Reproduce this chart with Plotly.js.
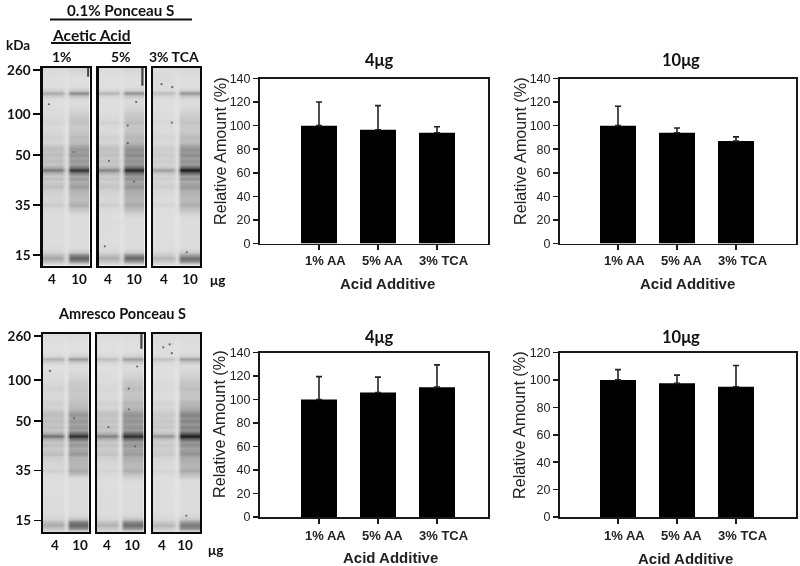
<!DOCTYPE html>
<html><head><meta charset="utf-8">
<script src="https://cdn.plot.ly/plotly-3.0.1.min.js"></script>
<style>html,body{margin:0;padding:0;background:#fff}#c{width:800px;height:566px;filter:blur(0.45px)}</style>
</head><body><div id="c"></div>
<script>
// ---- bar chart data ----
const categories = ['1% AA','5% AA','3% TCA'];
const top4Values = [100,96.5,94];      const top4Err = [20,20.5,5];
const top10Values = [100,94,87];       const top10Err = [16.5,4,3.5];
const bot4Values = [100,106,110.5];    const bot4Err = [19.5,13,19];
const bot10Values = [100,97.5,95];     const bot10Err = [7.5,6,15.5];
const tickVals140 = [0,20,40,60,80,100,120,140];
const tickVals120 = [0,20,40,60,80,100,120];

// ---- blot data: darkness (0-100) per gel row, one list per lane ----
const kdaLabels = ['260','100','50','35','15'];
const kdaRowsTop = [0.2,15.1,29,46,62.9];
const kdaRowsBot = [0.1,15,29,45.7,62.6];
const laneLabels = ['4','10'];
const gapLane = [14,12,11,10,10,10,10,11,13,11,10,10,9,9,9,9,10,10,10,9,9,9,10,10,10,10,11,12,11,12,11,12,11,12,16,13,11,11,10,10,11,10,10,10,9,10,11,10,10,9,9,9,10,9,10,9,9,10,9,9,10,10,11,13,15,13,10];
const t1L4 = [14,13,13,12,12,12,13,18,40,22,13,12,12,13,13,14,14,16,18,15,15,15,17,20,17,18,26,31,27,31,26,31,25,38,62,36,24,29,22,26,29,21,19,18,17,18,23,16,14,13,13,13,14,13,14,13,13,14,13,13,14,15,18,32,42,30,15];
const t1L10 = [18,16,13,12,12,12,14,22,55,28,14,13,14,16,18,22,24,26,28,24,24,25,28,32,30,32,42,50,46,52,44,50,44,62,90,62,42,48,38,42,46,36,34,32,30,32,38,28,22,15,13,13,13,13,14,13,13,13,13,13,13,15,24,58,72,56,20];
const t2L4 = [13,13,12,12,11,11,12,15,34,18,12,12,12,12,13,13,14,16,20,15,14,14,16,20,17,18,25,30,26,29,24,28,24,34,58,34,22,26,20,24,26,20,18,17,16,17,21,15,14,13,12,13,13,12,13,13,12,13,12,13,13,14,17,28,38,26,14];
const t2L10 = [16,15,13,12,12,12,13,20,52,26,14,14,15,17,20,24,26,28,32,26,26,26,30,34,32,36,46,54,50,56,48,52,48,66,94,66,48,52,42,46,50,40,38,36,34,36,40,32,26,18,15,13,13,14,13,13,13,13,13,13,13,15,22,54,70,52,18];
const t3L4 = [13,13,14,14,13,13,13,15,30,17,13,12,12,12,12,13,13,14,16,13,13,13,15,17,15,15,19,22,20,22,19,22,18,24,46,26,18,21,17,19,21,16,15,14,13,14,17,13,12,12,12,12,12,12,12,12,12,12,12,12,12,13,16,24,34,24,13];
const t3L10 = [15,14,13,12,12,12,13,20,50,26,14,13,13,15,17,21,23,25,27,23,23,24,27,32,30,33,44,52,48,54,46,52,46,68,100,68,46,52,40,44,48,38,36,34,32,34,38,30,24,17,14,13,13,13,13,13,13,13,13,13,13,15,22,46,66,58,20];
const b1L4 = [13,12,12,12,11,11,12,16,36,20,12,11,12,13,13,14,15,17,19,15,15,15,17,20,18,20,28,30,27,30,26,30,25,38,66,38,25,30,23,26,30,21,19,17,16,17,20,14,13,12,12,12,13,12,13,13,13,14,13,13,13,15,18,32,40,28,14];
const b1L10 = [14,13,12,12,11,11,13,20,48,24,13,13,14,16,18,22,24,24,26,24,24,25,27,30,30,34,44,50,44,50,44,50,46,66,92,64,44,50,40,44,50,36,36,34,34,36,40,30,16,13,13,13,13,13,13,13,13,13,13,13,14,17,28,62,70,58,20];
const b2L4 = [13,13,12,12,11,11,12,15,30,17,12,11,12,12,13,13,14,15,16,14,14,14,16,19,17,19,26,28,25,28,24,28,24,36,60,36,24,28,22,24,27,20,18,16,15,16,18,14,13,12,12,12,13,12,13,13,13,13,13,13,13,14,17,28,36,26,14];
const b2L10 = [14,13,12,12,11,11,13,20,46,24,14,14,15,17,19,24,26,28,30,26,26,27,30,34,32,36,46,52,48,52,46,52,48,68,92,66,46,50,42,44,48,38,36,34,32,34,38,28,20,15,13,13,13,13,13,13,13,13,13,13,14,17,28,56,68,54,18];
const b3L4 = [13,13,13,13,12,12,12,14,28,16,12,12,12,12,12,13,13,14,15,13,13,13,15,18,16,17,22,24,22,25,22,25,20,28,50,28,20,24,20,22,24,18,16,15,14,15,18,14,12,12,12,12,12,12,12,12,12,12,12,12,13,14,16,24,34,24,13];
const b3L10 = [14,13,13,13,12,12,13,20,46,24,14,14,15,18,20,24,26,28,30,26,26,26,30,34,36,40,52,58,52,58,50,58,52,72,100,70,50,54,44,48,52,40,38,36,34,36,40,30,22,14,13,13,13,13,13,13,13,13,13,13,14,16,24,50,62,56,20];
// small dark specks on each blot [column, row]
const specksX = [[1,6.8],[8.5,6.5,6.5,2,8,1],[1.5,4,3.9,7.4],[1.2,7],[9,7,7,2.2,8.5],[1.9,3.4,3.9,7.3]];
const specksY = [[11.8,28],[11,19,25,31,38,60],[5,6,18,62],[12,28],[10.5,18,25,31,37.5],[4,3,6,61]];
const streakX = [[10.2,10.2],[10,10],[],[],[10,10],[]];
const streakY = [[-0.5,2.5],[-0.5,5.5],[],[],[-0.5,4.5],[]];

// ---- layout helpers (pixels to paper) ----
const W=800,H=566;
const fx=p=>p/W, fy=p=>1-p/H;
const INK='#1a1a1a', TXT='#222222';
const lato='Lato, "Open Sans", sans-serif', sans='"Liberation Sans", Arial, sans-serif';
const colIdx=[0,1,2,3,4,5,6,7,8,9,10];
const rowIdx=gapLane.map((_,i)=>i);
const catLabelShift=[6,4,6.5];

const data=[]; const layout={width:W,height:H,margin:{l:0,r:0,t:0,b:0},paper_bgcolor:'#fff',plot_bgcolor:'#fff',showlegend:false,annotations:[],shapes:[]};

function note(text,x,y,size,opts){layout.annotations.push(Object.assign({text,x:fx(x),y:fy(y),xref:'paper',yref:'paper',showarrow:false,xanchor:'center',yanchor:'middle',font:{family:lato,size,color:'#111',weight:700}},opts||{}));}
function rule(x0,x1,y){layout.shapes.push({type:'line',xref:'paper',yref:'paper',x0:fx(x0),x1:fx(x1),y0:fy(y),y1:fy(y),line:{color:'#111',width:2}});}

let n=0;
function barChart(box,vals,errs,ymax,ticks,cat0,title,titleX,titleY,xTitleX,xTitleY,yTitleX,yTitleY,catY){
  n++; const xa=n===1?'x':'x'+n, ya=n===1?'y':'y'+n;
  const xk=n===1?'xaxis':'xaxis'+n, yk=n===1?'yaxis':'yaxis'+n;
  data.push({type:'bar',x:categories,y:vals,xaxis:xa,yaxis:ya,width:0.61,marker:{color:'#000',line:{width:0}},
    error_y:{type:'data',symmetric:false,array:errs,arrayminus:[0,0,0],thickness:1.6,width:3,color:'#222'}});
  const u=59, x0=(box.l-cat0)/u, x1=(box.r-cat0)/u;
  layout[xk]={domain:[fx(box.l),fx(box.r)],anchor:ya,type:'category',range:[x0,x1],showgrid:false,zeroline:false,
    showline:true,mirror:true,linecolor:INK,linewidth:1.5,ticks:'outside',ticklen:5,tickwidth:1.5,tickcolor:INK,
    showticklabels:false,fixedrange:true};
  layout[yk]={domain:[fy(box.b),fy(box.t)],anchor:xa,range:[0,ymax],tickvals:ticks,showgrid:false,zeroline:false,
    showline:true,mirror:true,linecolor:INK,linewidth:1.5,ticks:'outside',ticklen:5,tickwidth:1.5,tickcolor:INK,
    tickfont:{family:sans,size:12.5,color:TXT},fixedrange:true};
  categories.forEach((c,i)=>layout.annotations.push({text:c,x:i,xref:xa,xshift:catLabelShift[i],y:fy(catY),yref:'paper',showarrow:false,
    xanchor:'center',yanchor:'middle',font:{family:sans,size:13,color:TXT,weight:700}}));
  note(title,titleX,titleY,16.5);
  note('Relative Amount (%)',yTitleX,yTitleY,16.2,{textangle:-90,font:{family:sans,size:16.2,color:TXT}});
  note('Acid Additive',xTitleX,xTitleY,15,{font:{family:sans,size:15,color:TXT,weight:700}});
}
barChart({l:259.5,r:488,t:78.5,b:243.5},top4Values,top4Err,140,tickVals140,319,'4μg',379,60,387,283,220,151,260.5);
barChart({l:559.5,r:796,t:78.5,b:243.5},top10Values,top10Err,140,tickVals140,618,'10μg',681,60,687,283,520,151,260.5);
barChart({l:259.5,r:488,t:352.5,b:517},bot4Values,bot4Err,140,tickVals140,319,'4μg',379,337,390,557,219,424,535);
barChart({l:559.5,r:796,t:352.5,b:517},bot10Values,bot10Err,120,tickVals120,618,'10μg',681,337,685,558,519,425,535);

function blot(idx,box,laneA,laneB,kdaRows,lab4,lab10){
  n++; const xa='x'+n, ya='y'+n;
  const z=rowIdx.map(i=>{const a=laneA[i],g=gapLane[i],b=laneB[i];return [a,a,a,a,a,g,b,b,b,b,b];});
  data.push({type:'heatmap',x:colIdx,y:rowIdx,z,xaxis:xa,yaxis:ya,zmin:0,zmax:100,zsmooth:'best',showscale:false,hoverinfo:'skip',
    colorscale:[[0,'#f6f6f6'],[0.12,'#dedede'],[0.3,'#bebebe'],[0.5,'#979797'],[0.7,'#686868'],[1,'#1c1c1c']]});
  data.push({type:'scatter',mode:'markers',x:specksX[idx],y:specksY[idx],xaxis:xa,yaxis:ya,hoverinfo:'skip',
    marker:{size:2.2,color:'#666',line:{width:0}}});
  if(streakX[idx].length) data.push({type:'scatter',mode:'lines',x:streakX[idx],y:streakY[idx],xaxis:xa,yaxis:ya,hoverinfo:'skip',line:{color:'#444',width:2.2}});
  const xpx=p=>(p-box.l)/(box.r-box.l)*11-0.5;
  layout['xaxis'+n]={domain:[fx(box.l),fx(box.r)],anchor:ya,range:[-0.5,10.5],showgrid:false,zeroline:false,
    showline:true,mirror:true,linecolor:'#0a0a0a',linewidth:2.2,ticks:'',tickvals:[xpx(lab4),xpx(lab10)],ticktext:laneLabels,
    tickfont:{family:lato,size:13.5,color:'#111',weight:700},fixedrange:true};
  layout['yaxis'+n]={domain:[fy(box.b),fy(box.t)],anchor:xa,range:[66.5,-0.5],showgrid:false,zeroline:false,
    showline:true,mirror:true,linecolor:'#0a0a0a',linewidth:2.2,fixedrange:true,
    ticks:kdaRows?'outside':'',ticklen:7,tickwidth:1.8,tickcolor:'#0a0a0a',tickvals:kdaRows||[],ticktext:kdaRows?kdaLabels:[],
    tickfont:{family:lato,size:13.5,color:'#111',weight:700}};
}
blot(0,{l:42.5,r:89.5,t:68,b:265.5},t1L4,t1L10,kdaRowsTop,52,79);
blot(1,{l:98.5,r:144.5,t:68,b:265.5},t2L4,t2L10,null,108,134);
blot(2,{l:153,r:200,t:68,b:265.5},t3L4,t3L10,null,164,190);
blot(3,{l:43,r:88.5,t:334,b:532},b1L4,b1L10,kdaRowsBot,55,80);
blot(4,{l:97,r:143.5,t:334,b:532},b2L4,b2L10,null,107,132);
blot(5,{l:153,r:200,t:334,b:532},b3L4,b3L10,null,162,185);

note('0.1% Ponceau S',120,10,15.2);
rule(50,192,19.5);
note('Acetic Acid',91,35,15.5);
rule(51,131,43);
note('kDa',18,45,13.5);
note('1%',62,56,14);
note('5%',121,56,14);
note('3% TCA',174,56,14);
note('μg',217,280,13.5);
note('Amresco Ponceau S',122,314,14.5);
note('μg',215,550,13.5);

Plotly.newPlot('c',data,layout,{displayModeBar:false,staticPlot:true});
</script></body></html>
